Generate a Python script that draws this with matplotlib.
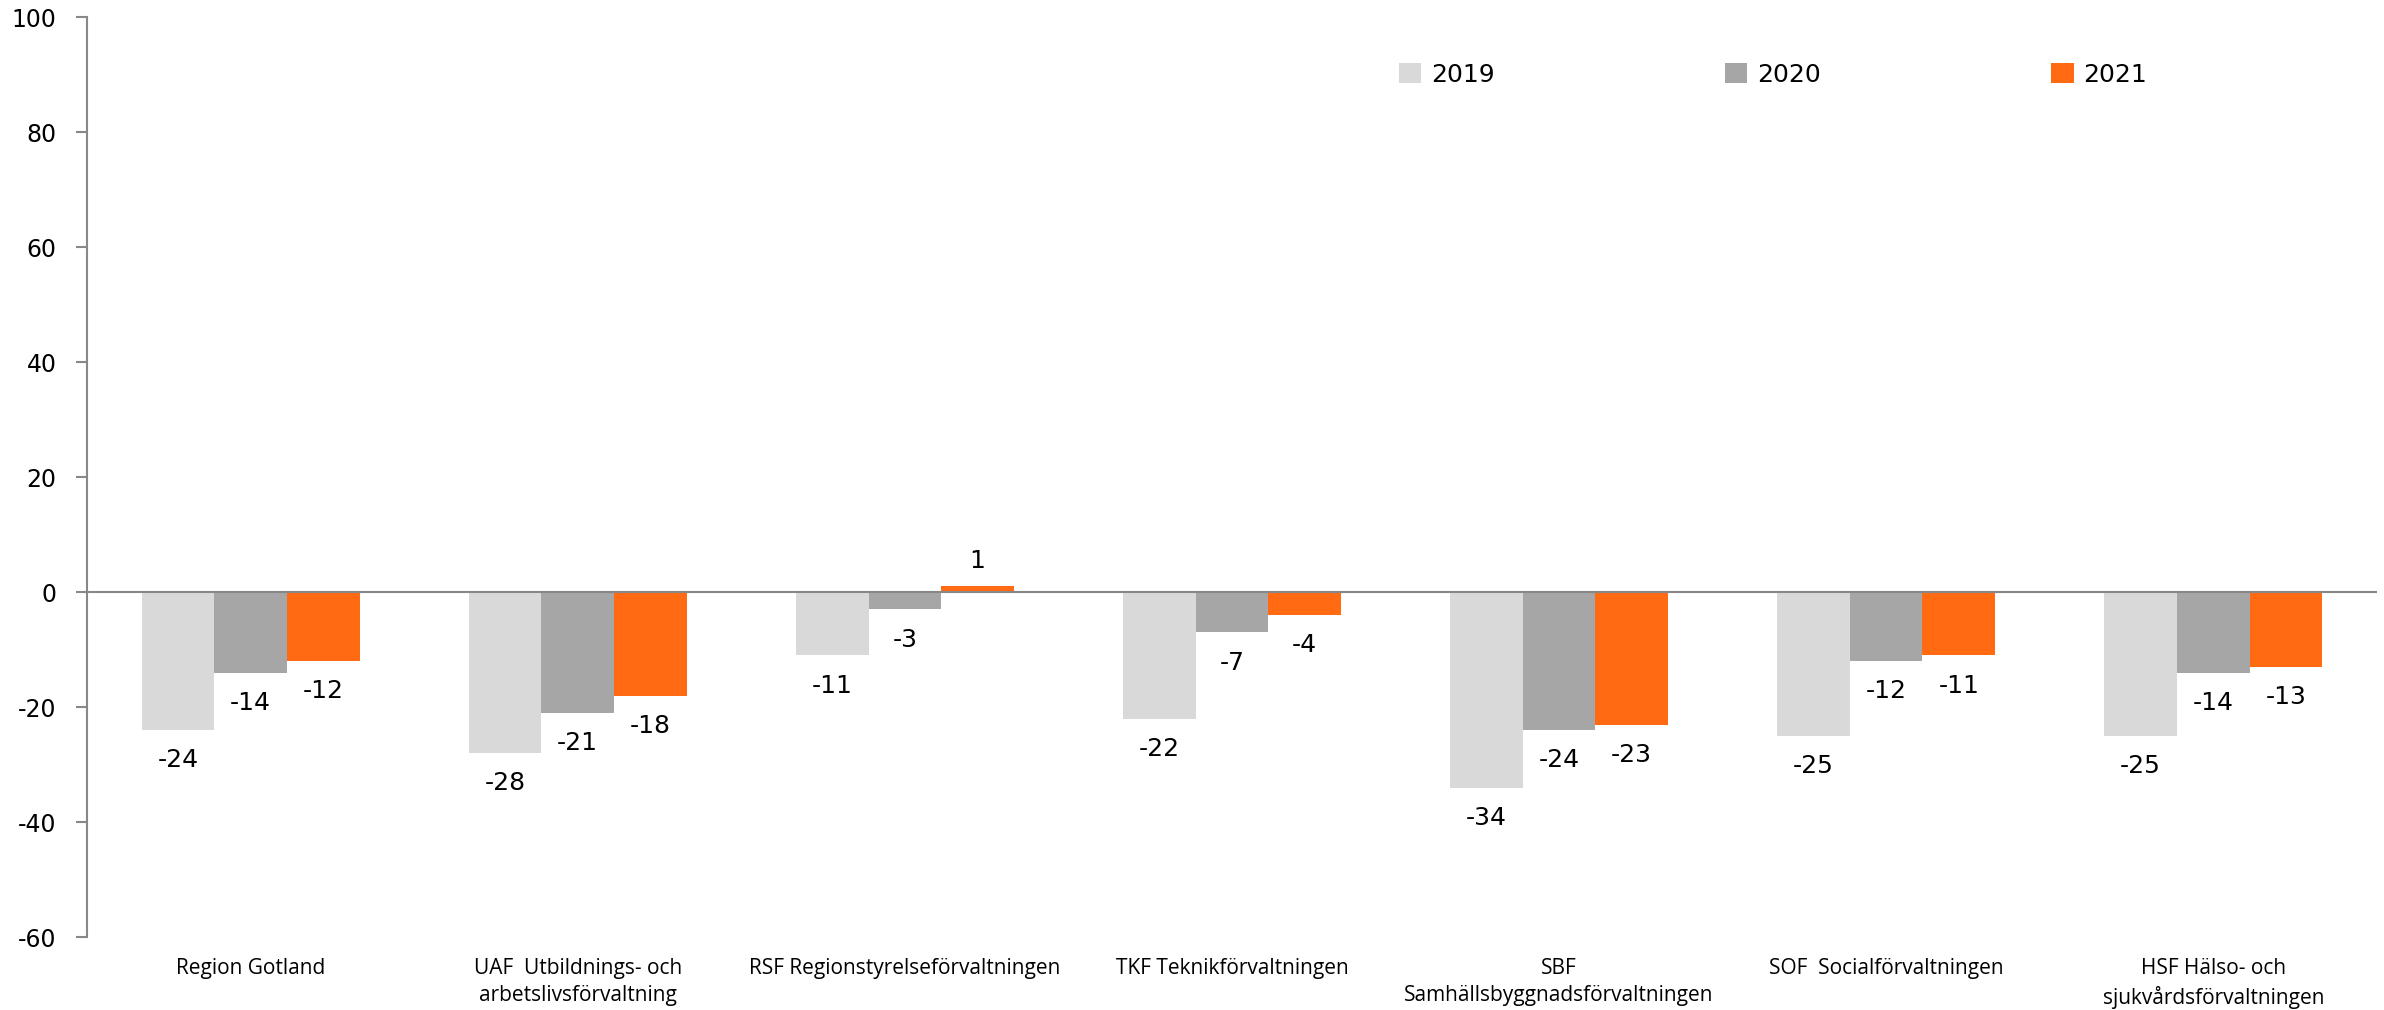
import numpy as np
import matplotlib
matplotlib.use("Agg")
import matplotlib.pyplot as plt

plt.rcParams["axes.unicode_minus"] = False

# data
categories = ["Region Gotland",
              "UAF  Utbildnings- och\narbetslivsförvaltning",
              "RSF Regionstyrelseförvaltningen",
              "TKF Teknikförvaltningen",
              "SBF\nSamhällsbyggnadsförvaltningen",
              "SOF  Socialförvaltningen",
              "HSF Hälso- och\nsjukvårdsförvaltningen"]
years = ["2019", "2020", "2021"]
v2019 = [-24, -28, -11, -22, -34, -25, -25]
v2020 = [-14, -21, -3, -7, -24, -12, -14]
v2021 = [-12, -18, 1, -4, -23, -11, -13]
colors = ["#D9D9D9", "#A6A6A6", "#FF6A13"]

fig = plt.figure(figsize=(23.84, 10.1), dpi=100)
ax = fig.add_axes([0.0365, 0.072, 0.9605, 0.911])

x = np.arange(len(categories))
w = 0.222
for i, (vals, yr) in enumerate(zip([v2019, v2020, v2021], years)):
    bars = ax.bar(x + (i - 1) * w, vals, w, color=colors[i], label=yr, zorder=2)
    for b, v in zip(bars, vals):
        if v < 0:
            ax.annotate(str(v), (b.get_x() + b.get_width() / 2, v), xytext=(0, -13),
                        textcoords="offset points", ha="center", va="top", fontsize=18)
        else:
            ax.annotate(str(v), (b.get_x() + b.get_width() / 2, v), xytext=(0, 10),
                        textcoords="offset points", ha="center", va="bottom", fontsize=18)

ax.set_xlim(-0.5, len(categories) - 0.5)
ax.set_ylim(-60, 100)
ax.set_yticks(range(-60, 101, 20))
ax.tick_params(axis="y", labelsize=17, length=8, color="#888888", width=1.5, pad=14)
ax.tick_params(axis="x", length=0)
ax.set_xticks([])

for s in ["top", "right", "bottom"]:
    ax.spines[s].set_visible(False)
ax.spines["left"].set_color("#888888")
ax.spines["left"].set_linewidth(1.5)
ax.axhline(0, color="#888888", lw=1.5, zorder=3)

# category labels under the plot
for xi, lab in zip(x, categories):
    ax.text(xi, -0.022, lab, transform=ax.get_xaxis_transform(), ha="center", va="top",
            fontsize=15, family=["Liberation Sans Narrow", "Open Sans", "DejaVu Sans"],
            linespacing=1.4)

ax.legend(loc="upper left", bbox_to_anchor=(0.563, 0.975), ncol=3, frameon=False,
          fontsize=18, columnspacing=9.2, handlelength=0.9, handleheight=0.9,
          handletextpad=0.4)

fig.savefig("out.png", dpi=100)
